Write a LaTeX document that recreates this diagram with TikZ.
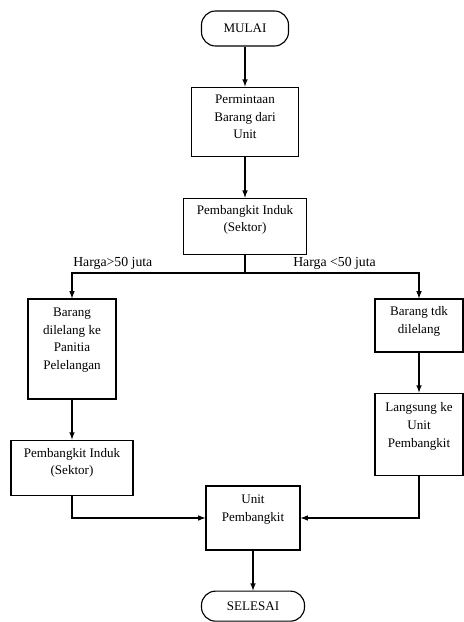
\documentclass[tikz,border=0pt]{standalone}
\usepackage{fontspec}
\setmainfont{Liberation Serif}
\usetikzlibrary{arrows,positioning}
% strut that pushes the text of a box a bit upwards
\newcommand{\lift}[1]{\rule[-#1]{0pt}{#1}}
\tikzset{
    %Define standard arrow tip
    >=latex,
    %Define style for boxes
    process/.style={
           rectangle,
           draw=black, line width=0.8pt,
           inner sep=2pt,
           align=center,
           font=\fontsize{9.3}{12.5}\selectfont},
    terminal/.style={
           rectangle,
           rounded corners=10pt,
           draw=black, line width=0.8pt,
           inner sep=2pt,
           font=\fontsize{9.3}{12.5}\selectfont},
    % Define style for the branch labels
    cond/.style={
           inner sep=0pt,
           font=\fontsize{9.8}{12}\selectfont},
    % Define arrow style
    pil/.style={
           ->,
           line width=0.8pt}
}
\begin{document}
\begin{tikzpicture}[x=0.025cm,y=-0.025cm]
\useasboundingbox (0,0) rectangle (464,622);
\node[terminal, minimum width=2.175cm, minimum height=0.875cm](mulai) at (245,28.5){MULAI};
\node[process, below=1cm of mulai, minimum width=2.675cm, minimum height=1.725cm](minta){Permintaan\\Barang dari\\Unit\lift{7pt}};
\node[process, below=1.025cm of minta, minimum width=3.075cm, minimum height=1.4cm](induk){Pembangkit Induk\\(Sektor)\lift{11pt}};
\coordinate (cabang) at (245,273);
\node[cond, anchor=base west](lebih) at (73,267){Harga>50 juta};
\node[cond, anchor=base west](kurang) at (293,267){Harga <50 juta};
\node[process, minimum width=2.2cm, minimum height=2.5cm](lelang) at (72,349){Barang\\dilelang ke\\Panitia\\Pelelangan\lift{14.5pt}};
\node[process, below=1cm of lelang, minimum width=3.05cm, minimum height=1.375cm](induk2){Pembangkit Induk\\(Sektor)\lift{9pt}};
\node[process, minimum width=2.2cm, minimum height=1.325cm](tdk) at (419,325.5){Barang tdk\\dilelang\lift{7.5pt}};
\node[process, below=1cm of tdk, minimum width=2.2cm, minimum height=2.05cm](langsung){Langsung ke\\Unit\\Pembangkit\lift{13pt}};
\node[process, minimum width=2.35cm, minimum height=1.6cm](unit) at (253,518){Unit\\Pembangkit\lift{14pt}};
\node[terminal, below=1cm of unit, minimum width=2.575cm, minimum height=0.75cm](selesai){SELESAI};
\draw[pil] (mulai) -- (minta);
\draw[pil] (minta) -- (induk);
\draw[line width=0.8pt] (induk) -- (cabang);
\draw[pil] (cabang) -| (lelang);
\draw[pil] (cabang) -| (tdk);
\draw[pil] (lelang) -- (induk2);
\draw[pil] (tdk) -- (langsung);
\draw[pil] (induk2) |- (unit);
\draw[pil] (langsung) |- (unit);
\draw[pil] (unit) -- (selesai);
\end{tikzpicture}
\end{document}
